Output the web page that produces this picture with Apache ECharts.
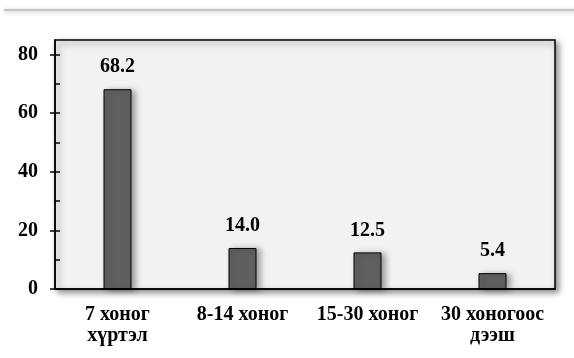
<!DOCTYPE html>
<html><head><meta charset="utf-8">
<script src="https://cdn.jsdelivr.net/npm/echarts@6/dist/echarts.min.js"></script>
<style>html,body{margin:0;padding:0;background:#fff}#c{width:574px;height:358px}</style>
</head><body><div id="c"></div>
<script>
var categories = ['7 хоног\nхүртэл', '8-14 хоног', '15-30 хоног', '30 хоногоос\nдээш'];
var values = [68.2, 14.0, 12.5, 5.4];
var yTicks = [0, 20, 40, 60, 80];
var yMinorTicks = [0, 10, 20, 30, 40, 50, 60, 70, 80];

var font = '"Liberation Serif", "Times New Roman", serif';
var chart = echarts.init(document.getElementById('c'), null, {renderer: 'canvas'});
chart.setOption({
  backgroundColor: '#ffffff',
  animation: false,
  graphic: [{
    type: 'rect', shape: {x: 4, y: 9, width: 580, height: 2},
    style: {fill: '#c4c4c4', shadowBlur: 4, shadowColor: 'rgba(0,0,0,0.25)', shadowOffsetY: 1}
  }],
  grid: {
    left: 55, top: 40, right: 19, bottom: 69,
    show: true, backgroundColor: '#f2f2f2', borderColor: '#000', borderWidth: 1.5,
    shadowBlur: 6, shadowColor: 'rgba(0,0,0,0.45)', shadowOffsetX: 3, shadowOffsetY: 3
  },
  xAxis: {
    type: 'category', data: categories,
    axisLine: {show: true, lineStyle: {color: '#000', width: 1.5}},
    axisTick: {show: false},
    axisLabel: {interval: 0, margin: 15, color: '#000', fontFamily: font, fontWeight: 'bold', fontSize: 20, lineHeight: 21}
  },
  yAxis: [{
    type: 'value', min: 0, max: 85, interval: 20,
    splitLine: {show: false},
    axisLine: {show: true, lineStyle: {color: '#000', width: 1.5}},
    axisTick: {show: true, length: 5, customValues: yTicks, lineStyle: {color: '#000', width: 1.5}},
    axisLabel: {margin: 17, color: '#000', fontFamily: font, fontWeight: 'bold', fontSize: 20,
      customValues: yTicks}
  }, {
    type: 'value', position: 'left', min: 0, max: 85, interval: 10,
    splitLine: {show: false}, axisLabel: {show: false},
    axisLine: {show: false},
    axisTick: {show: true, inside: true, length: 5, customValues: yMinorTicks, lineStyle: {color: '#000', width: 1.5}}
  }],
  series: [{
    type: 'bar', data: values, barWidth: 28, yAxisIndex: 0,
    itemStyle: {color: '#606060', borderColor: '#000', borderWidth: 1,
      shadowBlur: 6, shadowColor: 'rgba(0,0,0,0.35)', shadowOffsetX: 4, shadowOffsetY: 1},
    label: {show: true, position: 'top', distance: 12, color: '#000', fontFamily: font,
      fontWeight: 'bold', fontSize: 20,
      formatter: function (p) { return p.value.toFixed(1); }}
  }]
});
</script></body></html>
